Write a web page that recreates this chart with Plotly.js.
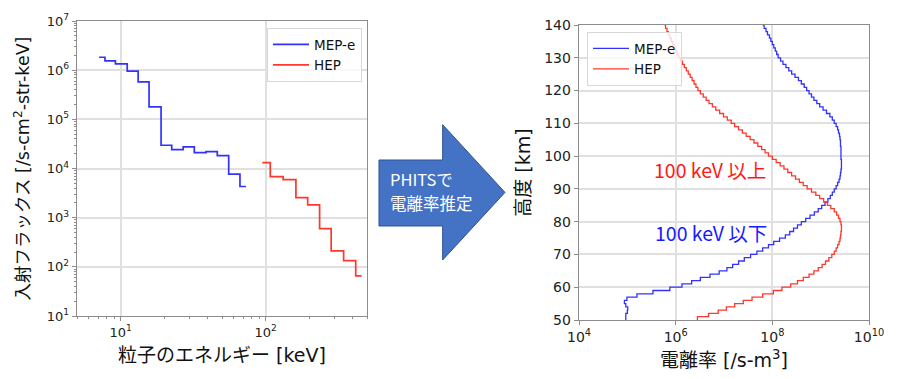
<!DOCTYPE html>
<html>
<head>
<meta charset="utf-8">
<script src="https://cdn.plot.ly/plotly-3.0.1.min.js"></script>
<style>html,body{margin:0;padding:0;background:#fff;}#chart{width:900px;height:379px;}</style>
</head>
<body>
<div id="chart"></div>
<script>
// ---------- Left panel: incident flux spectra (step, bin edges) ----------
const mepEdges = [7.1, 7.8, 9.2, 11.1, 13.2, 15.7, 19.0, 22.5, 27.0, 32.2, 38.8, 46.4, 55.6, 66.5, 73.1];
const mepFlux  = [1.83e6, 1.54e6, 1.34e6, 9.6e5, 5.8e5, 1.8e5, 2.97e4, 2.42e4, 2.75e4, 2.1e4, 2.2e4, 1.83e4, 7.66e3, 4.3e3];
const hepEdges = [94.8, 107.6, 132, 161.7, 195, 235.6, 283, 345, 418, 459];
const hepFlux  = [1.32e4, 6.85e3, 5.95e3, 2.56e3, 1.82e3, 601, 211, 134, 65.6];

// ---------- Right panel: ionization rate profiles ----------
const altitude = [50,51,52,53,54,55,56,57,58,59,60,61,62,63,64,65,66,67,68,69,70,71,72,73,74,75,76,77,78,79,80,81,82,83,84,85,86,87,88,89,90,91,92,93,94,95,96,97,98,99,100,101,102,103,104,105,106,107,108,109,110,111,112,113,114,115,116,117,118,119,120,121,122,123,124,125,126,127,128,129,130,131,132,133,134,135,136,137,138,139,140];
const mepRate = [9.3e4,9.3e4,1.0e5,1.02e5,9.3e4,8.7e4,9.8e4,1.58e5,3.39e5,7.59e5,
  1.35e6,2.14e6,3.24e6,5.13e6,7.94e6,1.15e7,1.51e7,2.0e7,2.63e7,3.55e7,
  4.79e7,6.31e7,8.32e7,1.07e8,1.41e8,1.86e8,2.29e8,2.75e8,3.31e8,3.98e8,
  4.9e8,6.03e8,7.41e8,8.91e8,1.05e9,1.23e9,1.41e9,1.58e9,1.74e9,1.91e9,
  2.09e9,2.24e9,2.4e9,2.51e9,2.57e9,2.63e9,2.69e9,2.69e9,2.69e9,2.63e9,
  2.63e9,2.63e9,2.63e9,2.57e9,2.57e9,2.51e9,2.45e9,2.34e9,2.24e9,2.09e9,
  1.91e9,1.74e9,1.55e9,1.32e9,1.12e9,9.55e8,8.32e8,7.24e8,6.46e8,5.75e8,
  5.13e8,4.57e8,3.98e8,3.47e8,2.95e8,2.51e8,2.19e8,1.91e8,1.66e8,1.48e8,
  1.32e8,1.23e8,1.15e8,1.07e8,1.0e8,9.33e7,8.71e7,7.94e7,7.41e7,6.76e7,6.31e7];
const hepRate = [2.82e6,4.79e6,7.59e6,1.12e7,1.66e7,2.51e7,3.8e7,6.31e7,1.05e8,1.58e8,
  2.4e8,3.31e8,4.37e8,5.75e8,7.24e8,8.91e8,1.07e9,1.26e9,1.48e9,1.7e9,
  1.91e9,2.09e9,2.24e9,2.4e9,2.51e9,2.57e9,2.63e9,2.69e9,2.69e9,2.63e9,
  2.51e9,2.34e9,2.14e9,1.91e9,1.62e9,1.38e9,1.15e9,9.55e8,7.94e8,6.46e8,
  5.25e8,4.37e8,3.63e8,3.02e8,2.51e8,2.09e8,1.74e8,1.45e8,1.2e8,1.0e8,
  8.32e7,7.08e7,6.03e7,5.01e7,4.17e7,3.47e7,2.88e7,2.4e7,2.0e7,1.66e7,
  1.41e7,1.17e7,9.77e6,8.13e6,6.76e6,5.75e6,4.9e6,4.27e6,3.72e6,3.24e6,
  2.88e6,2.63e6,2.4e6,2.19e6,2.0e6,1.82e6,1.66e6,1.51e6,1.38e6,1.26e6,
  1.15e6,1.07e6,1.0e6,9.33e5,8.71e5,8.13e5,7.59e5,7.08e5,6.61e5,6.17e5,5.89e5];

// tick labels
const fluxTickVals = [1e1,1e2,1e3,1e4,1e5,1e6,1e7];
const fluxTickText = ['10<sup>1</sup>','10<sup>2</sup>','10<sup>3</sup>','10<sup>4</sup>','10<sup>5</sup>','10<sup>6</sup>','10<sup>7</sup>'];
const energyTickVals = [10, 100];
const energyTickText = ['10<sup>1</sup>','10<sup>2</sup>'];
const rateTickVals = [1e4,1e6,1e8,1e10];
const rateTickText = ['10<sup>4</sup>','10<sup>6</sup>','10<sup>8</sup>','10<sup>10</sup>'];

const BLUE = 'rgb(50,50,255)';
const RED = 'rgb(255,55,45)';
const FONT = 'DejaVu Sans, "Noto Sans CJK JP", sans-serif';
const JFONT = '"Noto Sans CJK JP", "Noto Sans", sans-serif';

// geometry helpers (pixels -> paper)
const L = 77, R = 869, T = 21, B = 320;
const px = v => (v - L) / (R - L);
const py = v => (B - v) / (B - T);

function minorVals(lo, hi) {
  const out = [];
  for (let d = lo; d < hi; d *= 10) for (let k = 2; k <= 9; k++) out.push(d * k);
  return out;
}

const traces = [
  {x: mepEdges, y: mepFlux.concat([mepFlux[mepFlux.length-1]]), name: 'MEP-e', mode: 'lines',
   line: {shape: 'hv', color: BLUE, width: 1.7}, xaxis: 'x', yaxis: 'y', legend: 'legend'},
  {x: hepEdges, y: hepFlux.concat([hepFlux[hepFlux.length-1]]), name: 'HEP', mode: 'lines',
   line: {shape: 'hv', color: RED, width: 1.7}, xaxis: 'x', yaxis: 'y', legend: 'legend'},
  {x: mepRate, y: altitude, name: 'MEP-e', mode: 'lines',
   line: {shape: 'vh', color: BLUE, width: 1.3}, xaxis: 'x2', yaxis: 'y2', legend: 'legend2'},
  {x: hepRate, y: altitude, name: 'HEP', mode: 'lines',
   line: {shape: 'vh', color: RED, width: 1.3}, xaxis: 'x2', yaxis: 'y2', legend: 'legend2'}
];

const axisCommon = {
  showline: true, mirror: true, linecolor: '#8c8c8c', linewidth: 1.3,
  gridcolor: '#e0e0e0', gridwidth: 2, zeroline: false,
  ticks: 'outside', ticklen: 4, tickcolor: '#8c8c8c', tickwidth: 1,
  tickfont: {family: FONT, size: 13, color: '#222'}
};

// arrow outline (pixel coordinates)
const arrowPts = [[379,160],[442.7,160],[442.7,124.7],[505,192.4],[442.7,260],[442.7,226],[379,226]];
const arrowPath = 'M ' + arrowPts.map(p => px(p[0]).toFixed(4) + ',' + py(p[1]).toFixed(4)).join(' L ') + ' Z';

const titleFont = {family: FONT, size: 19, color: '#111'};

const layout = {
  width: 900, height: 379,
  margin: {l: L, r: 900 - R, t: T, b: 379 - B},
  paper_bgcolor: '#fff', plot_bgcolor: '#fff',
  font: {family: FONT, color: '#111'},
  xaxis: Object.assign({}, axisCommon, {
    type: 'log', domain: [0, px(367)], range: [Math.log10(5), Math.log10(500)],
    tickmode: 'array', tickvals: energyTickVals, ticktext: energyTickText,
    minor: {tickmode: 'array', tickvals: minorVals(1, 1000).filter(v => v >= 5 && v <= 500), ticks: 'outside', ticklen: 2, tickcolor: '#8c8c8c', showgrid: false},
    title: {text: '粒子のエネルギー [keV]', font: titleFont, standoff: 9}
  }),
  yaxis: Object.assign({}, axisCommon, {
    type: 'log', domain: [py(316), 1], range: [1, 7],
    tickmode: 'array', tickvals: fluxTickVals, ticktext: fluxTickText,
    minor: {tickmode: 'array', tickvals: minorVals(10, 1e7), ticks: 'outside', ticklen: 2, tickcolor: '#8c8c8c', showgrid: false},
    title: {text: '入射フラックス [/s-cm<sup>2</sup>-str-keV]', font: {family: FONT, size: 17.5, color: '#111'}, standoff: 12}
  }),
  xaxis2: Object.assign({}, axisCommon, {
    type: 'log', domain: [px(579), 1], range: [4, 10], anchor: 'y2',
    tickmode: 'array', tickvals: rateTickVals, ticktext: rateTickText,
    tickfont: {family: FONT, size: 14, color: '#222'},
    title: {text: '電離率 [/s-m<sup>3</sup>]', font: titleFont, standoff: 9}
  }),
  yaxis2: Object.assign({}, axisCommon, {
    domain: [0, py(25)], range: [50, 140], anchor: 'x2', dtick: 10, tick0: 50,
    tickfont: {family: FONT, size: 14, color: '#222'},
    title: {text: '高度 [km]', font: titleFont, standoff: 8}
  }),
  legend: {
    x: px(267), y: py(28), xanchor: 'left', yanchor: 'top',
    bgcolor: 'rgba(255,255,255,0.8)', bordercolor: '#d8d8d8', borderwidth: 1,
    font: {family: FONT, size: 13.5, color: '#111'}, itemwidth: 36
  },
  legend2: {
    x: px(587), y: py(32), xanchor: 'left', yanchor: 'top',
    bgcolor: 'rgba(255,255,255,0.8)', bordercolor: '#d8d8d8', borderwidth: 1,
    font: {family: FONT, size: 13.5, color: '#111'}, itemwidth: 36
  },
  shapes: [{
    type: 'path', xref: 'paper', yref: 'paper', path: arrowPath,
    fillcolor: '#4472C4', line: {color: '#2F528F', width: 1}, layer: 'above'
  }],
  annotations: [
    {xref: 'paper', yref: 'paper', x: px(389), y: py(179), xanchor: 'left', yanchor: 'middle',
     text: 'PHITSで', showarrow: false, borderpad: 0,
     font: {family: JFONT, size: 16.5, color: '#fff'}},
    {xref: 'paper', yref: 'paper', x: px(389), y: py(203), xanchor: 'left', yanchor: 'middle',
     text: '電離率推定', showarrow: false, borderpad: 0,
     font: {family: JFONT, size: 16.5, color: '#fff'}},
    {xref: 'x2', yref: 'y2', x: 6.71, y: 95.8, text: '100 keV 以上', showarrow: false,
     font: {family: JFONT, size: 19.5, color: 'rgb(255,25,20)'}},
    {xref: 'x2', yref: 'y2', x: 6.73, y: 76.8, text: '100 keV 以下', showarrow: false,
     font: {family: JFONT, size: 19.5, color: 'rgb(25,25,255)'}}
  ],
  showlegend: true
};

Plotly.newPlot('chart', traces, layout, {staticPlot: true, displayModeBar: false});
</script>
</body>
</html>
